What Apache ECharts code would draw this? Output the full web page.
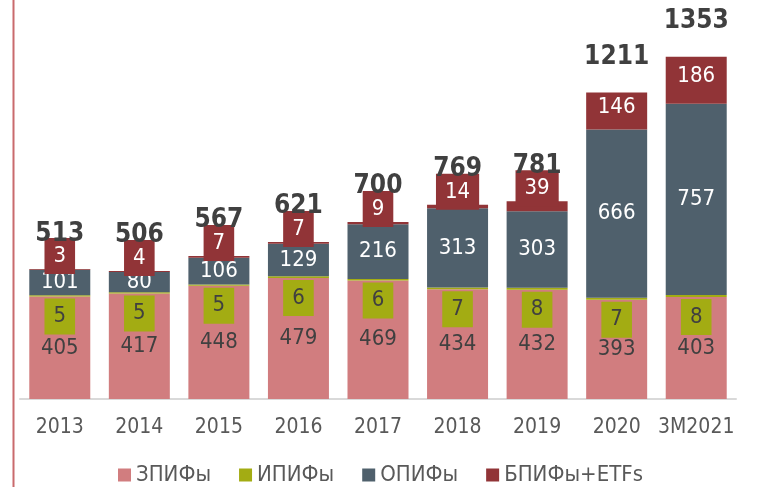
<!DOCTYPE html>
<html lang="ru">
<head>
<meta charset="UTF-8">
<title>ПИФы</title>
<script src="https://cdn.jsdelivr.net/npm/echarts@6/dist/echarts.min.js"></script>
</head>
<body style="margin:0">
<div id="main" style="width:761px;height:487px;"></div>
<script>
// данные
var years = ['2013', '2014', '2015', '2016', '2017', '2018', '2019', '2020', '3M2021'];
var zpif = [405, 417, 448, 479, 469, 434, 432, 393, 403];
var ipif = [5, 5, 5, 6, 6, 7, 8, 7, 8];
var opif = [101, 80, 106, 129, 216, 313, 303, 666, 757];
var bpif = [3, 4, 7, 7, 9, 14, 39, 146, 186];
var totals = [513, 506, 567, 621, 700, 769, 781, 1211, 1353];

var font = '"DejaVu Sans Condensed", "DejaVu Sans", sans-serif';
var cPink = '#D17D7F', cOlive = '#A3AC13', cSlate = '#4F606C', cRed = '#913437';

var myChart = echarts.init(document.getElementById('main'));

// маленькие значения БПИФ подписываем над сегментом
var bpifData = bpif.map(function (v) {
    if (v < 100) {
        return { value: v, label: { position: 'top', distance: 0, offset: [0, 5] } };
    }
    return { value: v, label: { position: 'inside', backgroundColor: 'transparent', offset: [0, -4] } };
});

var option = {
    animation: false,
    textStyle: { fontFamily: font },
    graphic: [{
        type: 'line',
        shape: { x1: 13.5, y1: 0, x2: 13.5, y2: 487 },
        style: { stroke: '#C96A6D', lineWidth: 2 }
    }],
    grid: { left: 20, right: 25, top: 45, bottom: 88, containLabel: false, outerBoundsMode: 'none' },
    legend: {
        data: ['ЗПИФы', 'ИПИФы', 'ОПИФы', 'БПИФы+ETFs'],
        left: 113,
        top: 459,
        itemWidth: 13,
        itemHeight: 13,
        itemGap: 28,
        icon: 'rect',
        textStyle: { fontFamily: font, fontSize: 22, color: '#595959' }
    },
    xAxis: {
        type: 'category',
        data: years,
        axisTick: { show: false },
        axisLine: { lineStyle: { color: '#d9d9d9', width: 2 } },
        axisLabel: { interval: 0, fontFamily: font, fontSize: 21, color: '#595959', margin: 18 }
    },
    yAxis: {
        type: 'value',
        min: 0,
        max: 1400,
        show: false,
        splitLine: { show: false }
    },
    series: [
        {
            name: 'ЗПИФы',
            type: 'bar',
            stack: 'all',
            barWidth: 61,
            itemStyle: { color: cPink },
            label: { show: true, position: 'inside', color: '#404040', fontSize: 22, fontFamily: font },
            data: zpif
        },
        {
            name: 'ИПИФы',
            type: 'bar',
            stack: 'all',
            itemStyle: { color: cOlive },
            label: {
                show: true, position: 'bottom', distance: 2,
                color: '#404040', fontSize: 22, fontFamily: font,
                backgroundColor: cOlive, padding: [7, 9]
            },
            data: ipif
        },
        {
            name: 'ОПИФы',
            type: 'bar',
            stack: 'all',
            itemStyle: { color: cSlate },
            label: { show: true, position: 'inside', color: '#fff', fontSize: 22, fontFamily: font },
            data: opif
        },
        {
            name: 'БПИФы+ETFs',
            type: 'bar',
            stack: 'all',
            itemStyle: { color: cRed },
            label: {
                show: true, color: '#fff', fontSize: 22, fontFamily: font,
                backgroundColor: cRed, padding: [7, 9]
            },
            data: bpifData
        },
        {
            name: 'Итого',
            type: 'line',
            symbol: 'circle',
            symbolSize: 1,
            itemStyle: { color: 'rgba(0,0,0,0)' },
            lineStyle: { opacity: 0 },
            z: 10,
            label: {
                show: true, position: 'top', distance: 22,
                color: '#404040', fontSize: 26, fontWeight: 'bold', fontFamily: font
            },
            data: totals
        }
    ]
};

myChart.setOption(option);
</script>
</body>
</html>
